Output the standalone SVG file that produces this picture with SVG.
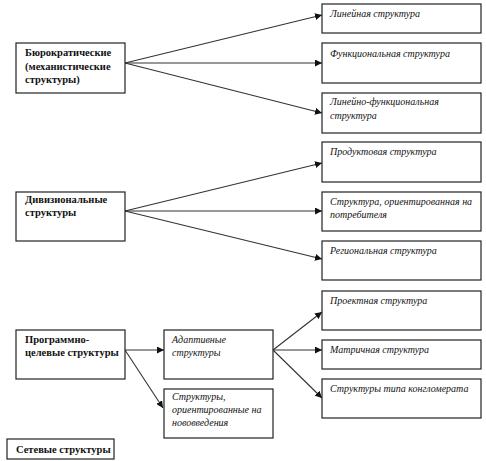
<svg xmlns="http://www.w3.org/2000/svg" width="486" height="461" viewBox="0 0 486 461">
<defs>
<marker id="ah" viewBox="0 0 10 10" refX="10" refY="5" markerWidth="7" markerHeight="7" markerUnits="userSpaceOnUse" orient="auto">
<path d="M0,0 L10,5 L0,10 z" fill="#111"/>
</marker>
</defs>
<style>
rect{fill:#fff;stroke:#222;stroke-width:1.2}
.b{font-family:"Liberation Serif","Times New Roman",serif;font-weight:bold;font-size:10.5px;fill:#111}
.i{font-family:"Liberation Serif","Times New Roman",serif;font-style:italic;font-size:10px;fill:#111}
#connectors line{stroke:#333;stroke-width:1.1;marker-end:url(#ah)}
</style>
<rect x="0" y="0" width="486" height="461" style="fill:#fff;stroke:none"/>
<g id="connectors">
<line x1="125" y1="63" x2="322" y2="15"/>
<line x1="125" y1="63" x2="322" y2="63"/>
<line x1="125" y1="63" x2="322" y2="113"/>
<line x1="125" y1="211" x2="322" y2="163"/>
<line x1="125" y1="211" x2="322" y2="211"/>
<line x1="125" y1="211" x2="322" y2="259"/>
<line x1="125" y1="350" x2="164" y2="350"/>
<line x1="125" y1="350" x2="163" y2="408"/>
<line x1="273" y1="350" x2="322" y2="312"/>
<line x1="273" y1="350" x2="322" y2="350"/>
<line x1="273" y1="350" x2="322" y2="398"/>
</g>
<g id="bureau">
<rect x="16" y="43" width="109" height="50"/>
<text class="b" x="25" y="56">Бюрократические</text>
<text class="b" x="25" y="70">(механистические</text>
<text class="b" x="25" y="83">структуры)</text>
</g>
<g id="linear">
<rect x="322" y="4" width="159" height="29"/>
<text class="i" x="330" y="17">Линейная структура</text>
</g>
<g id="functional">
<rect x="322" y="43" width="159" height="40"/>
<text class="i" x="330" y="57">Функциональная структура</text>
</g>
<g id="linfunc">
<rect x="322" y="93" width="159" height="40"/>
<text class="i" x="330" y="105">Линейно-функциональная</text>
<text class="i" x="330" y="119">структура</text>
</g>
<g id="division">
<rect x="16" y="192" width="109" height="49"/>
<text class="b" x="25" y="203">Дивизиональные</text>
<text class="b" x="25" y="216">структуры</text>
</g>
<g id="product">
<rect x="322" y="142" width="159" height="40"/>
<text class="i" x="330" y="155">Продуктовая структура</text>
</g>
<g id="consumer">
<rect x="322" y="192" width="159" height="39"/>
<text class="i" x="330" y="205">Структура, ориентированная на</text>
<text class="i" x="330" y="218">потребителя</text>
</g>
<g id="regional">
<rect x="322" y="241" width="159" height="39"/>
<text class="i" x="330" y="254">Региональная структура</text>
</g>
<g id="program">
<rect x="16" y="330" width="109" height="49"/>
<text class="b" x="25" y="343">Программно-</text>
<text class="b" x="25" y="356">целевые структуры</text>
</g>
<g id="adaptive">
<rect x="164" y="330" width="109" height="49"/>
<text class="i" x="172" y="343">Адаптивные</text>
<text class="i" x="172" y="356">структуры</text>
</g>
<g id="innovation">
<rect x="164" y="389" width="109" height="49"/>
<text class="i" x="172" y="400">Структуры,</text>
<text class="i" x="172" y="413">ориентированные на</text>
<text class="i" x="172" y="426">нововведения</text>
</g>
<g id="project">
<rect x="322" y="291" width="159" height="39"/>
<text class="i" x="330" y="304">Проектная структура</text>
</g>
<g id="matrix">
<rect x="322" y="340" width="159" height="29"/>
<text class="i" x="330" y="353">Матричная структура</text>
</g>
<g id="conglomerate">
<rect x="322" y="379" width="159" height="39"/>
<text class="i" x="330" y="392">Структуры типа конгломерата</text>
</g>
<g id="network">
<rect x="7" y="439" width="107" height="20"/>
<text class="b" x="16" y="453">Сетевые структуры</text>
</g>
</svg>
